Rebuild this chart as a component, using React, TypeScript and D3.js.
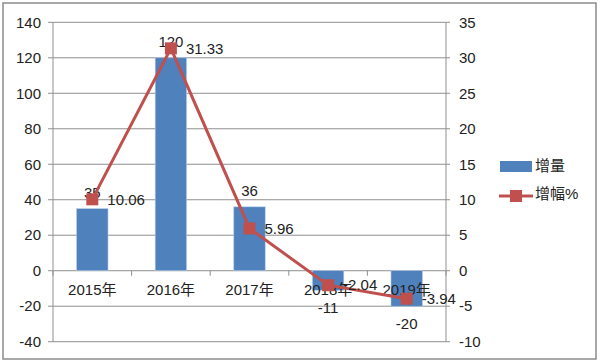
import React, { useEffect, useRef } from 'react'
import * as d3 from 'd3'

const years = ['2015年', '2016年', '2017年', '2018年', '2019年']
const increase = [35, 120, 36, -11, -20]
const growthPct = [10.06, 31.33, 5.96, -2.04, -3.94]
const leftTicks = [-40, -20, 0, 20, 40, 60, 80, 100, 120, 140]
const rightTicks = [-10, -5, 0, 5, 10, 15, 20, 25, 30, 35]

const W = 600
const H = 362
const BLUE = '#4F81BD'
const RED = '#C0504D'
const FONT = '"Liberation Sans", "Noto Sans CJK SC", sans-serif'

export default function App() {
  const ref = useRef<SVGSVGElement>(null)

  useEffect(() => {
    const svg = d3.select(ref.current)
    svg.selectAll('*').remove()

    const left = 53, right = 446, top = 22.3, bottom = 341.7

    const x = d3.scaleBand().domain(years).range([left, right]).paddingInner(0.6).paddingOuter(0.3)
    const yL = d3.scaleLinear().domain([-40, 140]).range([bottom, top])
    const yR = d3.scaleLinear().domain([-10, 35]).range([bottom, top])
    const cx = (d: string) => (x(d) as number) + x.bandwidth() / 2

    // outer frame
    svg.append('rect')
      .attr('x', 3).attr('y', 3).attr('width', 593).attr('height', 356)
      .attr('fill', '#fff').attr('stroke', '#8c8c8c').attr('stroke-width', 1.5)

    // gridlines + left ticks
    svg.append('g').selectAll('line').data(leftTicks).enter().append('line')
      .attr('x1', left - 5).attr('x2', right + 4)
      .attr('y1', d => yL(d)).attr('y2', d => yL(d))
      .attr('stroke', '#8f8f8f').attr('stroke-width', 1)

    svg.append('g').selectAll('text').data(leftTicks).enter().append('text')
      .attr('x', 41).attr('y', d => yL(d)).attr('dy', '0.35em')
      .attr('text-anchor', 'end').attr('font-size', 15).attr('font-family', FONT).attr('fill', '#222')
      .text(d => d)

    svg.append('g').selectAll('text').data(rightTicks).enter().append('text')
      .attr('x', 459).attr('y', d => yR(d)).attr('dy', '0.35em')
      .attr('text-anchor', 'start').attr('font-size', 15).attr('font-family', FONT).attr('fill', '#222')
      .text(d => d)

    // vertical axes
    svg.append('line').attr('x1', left).attr('x2', left).attr('y1', top).attr('y2', bottom)
      .attr('stroke', '#8f8f8f')
    svg.append('line').attr('x1', right).attr('x2', right).attr('y1', top).attr('y2', bottom)
      .attr('stroke', '#8f8f8f')

    // category tick marks
    const step = x.step()
    const bounds = d3.range(years.length + 1).map(i => left + i * step)
    svg.append('g').selectAll('line').data(bounds).enter().append('line')
      .attr('x1', d => d).attr('x2', d => d)
      .attr('y1', yL(0)).attr('y2', yL(0) + 5)
      .attr('stroke', '#8f8f8f')

    // bars
    svg.append('g').selectAll('rect').data(increase).enter().append('rect')
      .attr('x', (d, i) => x(years[i]) as number)
      .attr('y', d => yL(Math.max(0, d)))
      .attr('width', x.bandwidth())
      .attr('height', d => Math.abs(yL(d) - yL(0)))
      .attr('fill', BLUE).attr('stroke', '#b9cde5').attr('stroke-width', 0.6)

    // category labels
    svg.append('g').selectAll('text').data(years).enter().append('text')
      .attr('x', d => cx(d)).attr('y', yL(0) + 24)
      .attr('text-anchor', 'middle').attr('font-size', 15).attr('font-family', FONT).attr('fill', '#222')
      .text(d => d)

    // bar value labels
    svg.append('g').selectAll('text').data(increase).enter().append('text')
      .attr('x', (d, i) => cx(years[i]))
      .attr('y', d => d >= 0 ? yL(d) - 16 : yL(d) + 18)
      .attr('dy', '0.35em')
      .attr('text-anchor', 'middle').attr('font-size', 15).attr('font-family', FONT).attr('fill', '#222')
      .text(d => d)

    // growth line
    const line = d3.line<number>()
      .x((d, i) => cx(years[i]))
      .y(d => yR(d))
    svg.append('path').datum(growthPct)
      .attr('d', line).attr('fill', 'none').attr('stroke', RED).attr('stroke-width', 3)

    svg.append('g').selectAll('rect').data(growthPct).enter().append('rect')
      .attr('x', (d, i) => cx(years[i]) - 6).attr('y', d => yR(d) - 6)
      .attr('width', 12).attr('height', 12).attr('fill', RED)

    svg.append('g').selectAll('text').data(growthPct).enter().append('text')
      .attr('x', (d, i) => cx(years[i]) + 15).attr('y', d => yR(d)).attr('dy', '0.35em')
      .attr('font-size', 15).attr('font-family', FONT).attr('fill', '#222')
      .text(d => d.toFixed(2))

    // legend
    const lg = svg.append('g')
    lg.append('rect').attr('x', 500).attr('y', 161).attr('width', 32).attr('height', 11).attr('fill', BLUE)
    lg.append('text').attr('x', 535).attr('y', 166).attr('dy', '0.35em')
      .attr('font-size', 15).attr('font-family', FONT).attr('fill', '#222').text('增量')
    lg.append('line').attr('x1', 499).attr('x2', 533).attr('y1', 196).attr('y2', 196)
      .attr('stroke', RED).attr('stroke-width', 3)
    lg.append('rect').attr('x', 510).attr('y', 190).attr('width', 12).attr('height', 12).attr('fill', RED)
    lg.append('text').attr('x', 535).attr('y', 194).attr('dy', '0.35em')
      .attr('font-size', 15).attr('font-family', FONT).attr('fill', '#222').text('增幅%')
  }, [])

  return (
    <svg ref={ref} width={W} height={H} style={{ position: 'absolute', left: 0, top: 0 }} />
  )
}
